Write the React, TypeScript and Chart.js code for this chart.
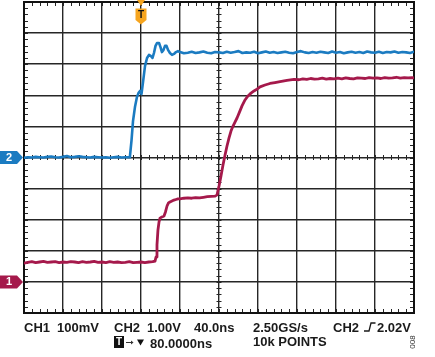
import React, { useEffect, useRef } from "react";
import { Chart, registerables } from "chart.js";
Chart.register(...registerables);

// Time relative to trigger (ns), 40 ns/div, 10 divisions
const timeMin = -120;
const timeMax = 280;
const timePerDiv = 40;
// Vertical in screen divisions (-5..5)
const divMin = -5;
const divMax = 5;

// CH2 (blue) trace, in divisions
const ch2Time = [
  -120, -116, -112, -108, -104, -100, -96, -92, -88, -84, -80, -76, -72, -68, -64, -60, -56, -52, -48, -44,
  -40, -36, -32, -28, -24, -20, -16, -12,
  -11.3, -9.7, -8.2, -6.2, -4.1, -2.6, -1.0, 0.5, 2.1, 4.1, 6.2, 8.2, 10.3, 11.8, 13.3, 14.9, 16.4, 18.5,
  20.0, 21.5, 23.1, 24.6, 26.2, 27.7, 29.7, 31.8, 33.8, 35.9, 37.9, 40,
  44, 48, 52, 56, 60, 64, 68, 72, 76, 80, 84, 88, 92, 96, 100, 104, 108, 112, 116, 120, 124, 128, 132, 136,
  140, 144, 148, 152, 156, 160, 164, 168, 172, 176, 180, 184, 188, 192, 196, 200, 204, 208, 212, 216, 220,
  224, 228, 232, 236, 240, 244, 248, 252, 256, 260, 264, 268, 272, 276, 280,
];
const ch2Div = [
  -0.01, 0.01, 0, 0.02, 0.01, 0, 0.02, 0.03, 0.01, 0, 0.02, 0.05, 0.01, 0.02, 0.04, 0.02, 0.01, 0, 0.02, 0.01,
  0, 0.01, -0.01, 0.01, 0.02, 0, 0.01, 0.01,
  0.05, 0.56, 1.17, 1.62, 1.95, 2.07, 2.14, 2.04, 2.43, 2.94, 3.2, 3.3, 3.26, 3.2, 3.36, 3.59, 3.68, 3.68,
  3.55, 3.39, 3.46, 3.59, 3.59, 3.46, 3.36, 3.3, 3.33, 3.39, 3.42, 3.39,
  3.35, 3.37, 3.4, 3.36, 3.38, 3.41, 3.37, 3.35, 3.39, 3.38, 3.36, 3.4, 3.37, 3.39, 3.42, 3.36, 3.38, 3.37,
  3.4, 3.35, 3.38, 3.41, 3.37, 3.39, 3.36, 3.38, 3.4, 3.37, 3.35, 3.39, 3.42, 3.38, 3.36, 3.39, 3.37, 3.4,
  3.38, 3.36, 3.41, 3.37, 3.39, 3.35, 3.38, 3.4, 3.37, 3.39, 3.36, 3.41, 3.38, 3.37, 3.4, 3.36, 3.39, 3.38,
  3.41, 3.37, 3.39, 3.38, 3.36, 3.4,
];

// CH1 (red) trace, in divisions
const ch1Time = [
  -120, -116, -112, -108, -104, -100, -96, -92, -88, -84, -80, -76, -72, -68, -64, -60, -56, -52, -48, -44,
  -40, -36, -32, -28, -24, -20, -16, -12, -8, -4, 0, 4, 8, 12,
  14.4, 15.4, 16.4, 17.4, 18.5, 19.5, 21.5, 23.6, 25.1, 26.7, 28.2, 29.7, 31.8, 33.8, 35.9, 37.9,
  40, 44, 48, 52, 56, 60, 64, 68, 72, 76,
  78, 80, 82.1, 84.1, 86.2, 88.2, 90.3, 92.3, 94.4, 96.4, 98.5, 101, 103.6, 106.7, 109.7, 112.8, 115.9, 119,
  122.1, 127.2, 132.3, 137.4, 142.6, 149.7, 156.9,
  162, 166, 170, 174, 178, 182, 186, 190, 194, 198, 202, 206, 210, 214, 218, 222, 226, 230, 234, 238, 242,
  246, 250, 254, 258, 262, 266, 270, 274, 278, 280,
];
const ch1Div = [
  -3.4, -3.37, -3.35, -3.38, -3.36, -3.34, -3.37, -3.36, -3.35, -3.38, -3.36, -3.37, -3.35, -3.36, -3.38,
  -3.35, -3.37, -3.36, -3.34, -3.37, -3.36, -3.38, -3.35, -3.37, -3.36, -3.38, -3.37, -3.35, -3.38, -3.37,
  -3.36, -3.38, -3.36, -3.35,
  -3.33, -3.2, -2.81, -2.33, -2.07, -1.95, -1.91, -1.88, -1.75, -1.56, -1.46, -1.43, -1.4, -1.37, -1.35, -1.33,
  -1.33, -1.31, -1.3, -1.31, -1.29, -1.3, -1.28, -1.26, -1.25, -1.24,
  -1.2, -0.92, -0.59, -0.24, 0.08, 0.37, 0.63, 0.85, 1.01, 1.14, 1.27, 1.46, 1.66, 1.85, 1.98, 2.07, 2.14, 2.2,
  2.27, 2.33, 2.38, 2.41, 2.44, 2.48, 2.51,
  2.5, 2.53, 2.51, 2.54, 2.52, 2.53, 2.55, 2.52, 2.54, 2.53, 2.55, 2.53, 2.56, 2.54, 2.53, 2.56, 2.55, 2.54,
  2.57, 2.55, 2.56, 2.54, 2.57, 2.55, 2.56, 2.58, 2.55, 2.57, 2.56, 2.57, 2.56,
];

const ch1Ground = -4;
const ch2Ground = 0;
const triggerTime = 0;

const line1Labels = [
  { text: "CH1", x: 24 },
  { text: "100mV", x: 57 },
  { text: "CH2", x: 114 },
  { text: "1.00V", x: 147 },
  { text: "40.0ns", x: 194 },
  { text: "2.50GS/s", x: 253 },
  { text: "CH2", x: 333 },
  { text: "2.02V", x: 377 },
];
const delayLabel = "80.0000ns";
const pointsLabel = "10k POINTS";
const figureId = "008";

const BLUE = "#1b7bc1";
const RED = "#a5194b";
const ORANGE = "#f6a51f";
const GRID = "#262626";
const FONT = "'Liberation Sans', Arial, sans-serif";

const decor = {
  id: "decor",
  beforeDatasetsDraw(chart: any) {
    const { ctx, chartArea: a, scales } = chart;
    const xs = scales.x;
    const ys = scales.y;
    ctx.save();
    ctx.strokeStyle = GRID;
    ctx.lineWidth = 1;
    ctx.beginPath();
    const yc = ys.getPixelForValue(0);
    const xc = xs.getPixelForValue((timeMin + timeMax) / 2);
    const nx = ((timeMax - timeMin) / timePerDiv) * 5;
    for (let k = 0; k <= nx; k++) {
      const x = Math.round(xs.getPixelForValue(timeMin + (k * timePerDiv) / 5)) + 0.5;
      ctx.moveTo(x, a.top);
      ctx.lineTo(x, a.top + 4);
      ctx.moveTo(x, a.bottom);
      ctx.lineTo(x, a.bottom - 4);
      ctx.moveTo(x, yc - 2.5);
      ctx.lineTo(x, yc + 2.5);
    }
    const ny = (divMax - divMin) * 5;
    for (let k = 0; k <= ny; k++) {
      const y = Math.round(ys.getPixelForValue(divMin + k / 5)) + 0.5;
      ctx.moveTo(a.left, y);
      ctx.lineTo(a.left + 4, y);
      ctx.moveTo(a.right, y);
      ctx.lineTo(a.right - 4, y);
      ctx.moveTo(xc - 2.5, y);
      ctx.lineTo(xc + 2.5, y);
    }
    ctx.stroke();
    ctx.lineWidth = 2;
    ctx.strokeStyle = "#111";
    ctx.strokeRect(a.left, a.top, a.right - a.left, a.bottom - a.top);
    ctx.restore();
  },
  afterDraw(chart: any) {
    const { ctx, chartArea: a, scales } = chart;
    const xs = scales.x;
    const ys = scales.y;
    ctx.save();

    // channel tags
    const tag = (yv: number, color: string, label: string) => {
      const y = ys.getPixelForValue(yv);
      ctx.fillStyle = color;
      ctx.beginPath();
      ctx.moveTo(0, y - 6.5);
      ctx.lineTo(a.left - 7, y - 6.5);
      ctx.lineTo(a.left - 1, y);
      ctx.lineTo(a.left - 7, y + 6.5);
      ctx.lineTo(0, y + 6.5);
      ctx.closePath();
      ctx.fill();
      ctx.fillStyle = "#fff";
      ctx.font = `bold 11px ${FONT}`;
      ctx.textAlign = "center";
      ctx.textBaseline = "middle";
      ctx.fillText(label, 9, y + 0.5);
    };
    tag(ch2Ground, BLUE, "2");
    tag(ch1Ground, RED, "1");

    // trigger marker
    const tx = xs.getPixelForValue(triggerTime);
    ctx.fillStyle = ORANGE;
    ctx.beginPath();
    ctx.moveTo(tx - 4, a.top - 2);
    ctx.lineTo(tx + 4, a.top - 2);
    ctx.lineTo(tx, a.top + 4);
    ctx.closePath();
    ctx.fill();
    ctx.beginPath();
    ctx.moveTo(tx - 5.5, 8.5);
    ctx.lineTo(tx + 5.5, 8.5);
    ctx.lineTo(tx + 5.5, 20);
    ctx.lineTo(tx, 24.5);
    ctx.lineTo(tx - 5.5, 20);
    ctx.closePath();
    ctx.fill();
    ctx.fillStyle = "#111";
    ctx.font = `bold 10px ${FONT}`;
    ctx.textAlign = "center";
    ctx.textBaseline = "middle";
    ctx.fillText("T", tx, 15.5);

    // bottom texts
    ctx.fillStyle = "#1a1a1a";
    ctx.font = `bold 13px ${FONT}`;
    ctx.textAlign = "left";
    ctx.textBaseline = "alphabetic";
    for (const l of line1Labels) ctx.fillText(l.text, l.x, 331.5);
    ctx.fillText(pointsLabel, 253, 345.5);
    ctx.fillText(delayLabel, 150, 348);

    // rising edge symbol
    ctx.strokeStyle = "#1a1a1a";
    ctx.lineWidth = 1.3;
    ctx.beginPath();
    ctx.moveTo(364, 331);
    ctx.lineTo(369, 331);
    ctx.lineTo(371, 323);
    ctx.lineTo(375.5, 323);
    ctx.stroke();

    // T box, arrow, triangle
    ctx.fillStyle = "#111";
    ctx.fillRect(114, 336, 10, 12);
    ctx.fillStyle = "#fff";
    ctx.font = `bold 10px ${FONT}`;
    ctx.textAlign = "center";
    ctx.textBaseline = "middle";
    ctx.fillText("T", 119, 342.5);
    ctx.strokeStyle = "#333";
    ctx.lineWidth = 1;
    ctx.beginPath();
    ctx.moveTo(126, 342.5);
    ctx.lineTo(131, 342.5);
    ctx.stroke();
    ctx.fillStyle = "#333";
    ctx.beginPath();
    ctx.moveTo(131, 340.5);
    ctx.lineTo(133.5, 342.5);
    ctx.lineTo(131, 344.5);
    ctx.closePath();
    ctx.fill();
    ctx.fillStyle = "#111";
    ctx.beginPath();
    ctx.moveTo(137, 339.5);
    ctx.lineTo(144, 339.5);
    ctx.lineTo(140.5, 345.5);
    ctx.closePath();
    ctx.fill();

    // figure id rotated
    ctx.save();
    ctx.translate(413, 342);
    ctx.rotate(-Math.PI / 2);
    ctx.fillStyle = "#333";
    ctx.font = `8px ${FONT}`;
    ctx.textAlign = "center";
    ctx.textBaseline = "middle";
    ctx.fillText(figureId, 0, 0);
    ctx.restore();

    ctx.restore();
  },
};

export default function App() {
  const ref = useRef<HTMLCanvasElement | null>(null);
  useEffect(() => {
    if (!ref.current) return;
    const chart = new Chart(ref.current, {
      type: "line",
      data: {
        datasets: [
          {
            label: "CH2",
            data: ch2Time.map((t, i) => ({ x: t, y: ch2Div[i] })),
            borderColor: BLUE,
            borderWidth: 2.6,
            pointRadius: 0,
            tension: 0,
            borderJoinStyle: "round",
            borderCapStyle: "round",
          },
          {
            label: "CH1",
            data: ch1Time.map((t, i) => ({ x: t, y: ch1Div[i] })),
            borderColor: RED,
            borderWidth: 2.8,
            pointRadius: 0,
            tension: 0,
            borderJoinStyle: "round",
            borderCapStyle: "round",
          },
        ],
      },
      options: {
        animation: false,
        responsive: false,
        devicePixelRatio: 1,
        layout: { padding: { left: 24, right: 21, top: 2, bottom: 44 } },
        plugins: { legend: { display: false }, tooltip: { enabled: false } },
        scales: {
          x: {
            type: "linear",
            min: timeMin,
            max: timeMax,
            ticks: { display: false, stepSize: timePerDiv },
            grid: { color: GRID, lineWidth: 1.4, drawTicks: false },
            border: { display: false },
          },
          y: {
            type: "linear",
            min: divMin,
            max: divMax,
            ticks: { display: false, stepSize: 1 },
            grid: { color: GRID, lineWidth: 1.4, drawTicks: false },
            border: { display: false },
          },
        },
      },
      plugins: [decor],
    });
    return () => chart.destroy();
  }, []);
  return (
    <div style={{ position: "fixed", left: 0, top: 0, width: 435, height: 357, background: "#fff" }}>
      <canvas ref={ref} width={435} height={357} style={{ display: "block" }} />
    </div>
  );
}
